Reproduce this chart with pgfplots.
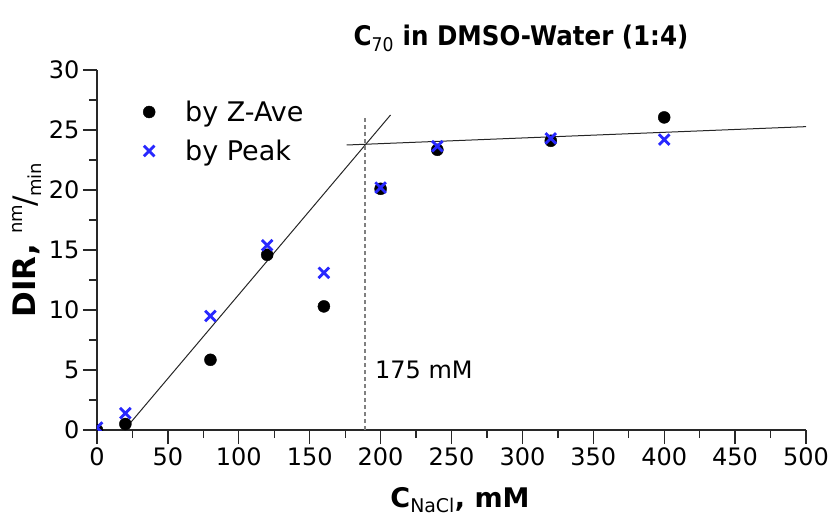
\documentclass[border=0pt]{standalone}
\usepackage{fontspec}
\setmainfont{DejaVu Sans}
\newfontfamily\titlefont{DejaVu Sans}[FakeStretch=0.91]
\usepackage{pgfplots}
\pgfplotsset{compat=1.18}
\definecolor{peakblue}{RGB}{40,40,255}
\definecolor{dashgray}{RGB}{128,128,128}
\definecolor{axisgray}{RGB}{40,40,40}

\begin{document}
\begin{tikzpicture}[x=1pt,y=1pt]
\begin{axis}[
  at={(0,0)}, anchor=south west,
  scale only axis,
  width=709pt, height=360pt,
  xmin=0, xmax=500, ymin=0, ymax=30,
  axis x line*=bottom, axis y line*=left,
  axis line style={axisgray, line width=1.3pt},
  xtick={0,50,...,500}, ytick={0,5,...,30},
  minor x tick num=1, minor y tick num=1,
  tick align=outside,
  major tick length=14pt, minor tick length=8pt,
  every tick/.style={axisgray, line width=1.3pt},
  tick label style={font=\fontsize{24}{28}\selectfont},
  /pgf/number format/assume math mode=true,
  clip marker paths=true,
  legend cell align=left,
  legend style={draw=none, fill=none, at={(axis cs:28.2,27.6)}, anchor=north west,
    font=\fontsize{27}{30}\selectfont, row sep=13pt, inner sep=0pt},
  legend image code/.code={\draw[mark repeat=2,mark phase=2,#1] plot coordinates {(0pt,0pt) (12pt,0pt) (24pt,0pt)}; \path[draw=none] (0pt,0pt) -- (46pt,0pt);},
]
% fitted lines
\addplot[black!85, line width=1pt, forget plot] coordinates {(20,0.1) (207,26.25)};
\addplot[black!85, line width=1pt, forget plot] coordinates {(176,23.75) (500,25.28)};
\addplot[dashgray, line width=1.5pt, dash pattern=on 4pt off 3pt, forget plot] coordinates {(189,0) (189,26)};
% data
\addplot[only marks, mark=*, mark size=6pt, black] coordinates {
(0,0) (20,0.5) (80,5.85) (120,14.6) (160,10.3) (200,20.1) (240,23.35) (320,24.1) (400,26.05)
};
\addlegendentry{by Z-Ave}
\addplot[only marks, mark=x, mark size=7.5pt, peakblue, line width=2.8pt] coordinates {
(0,0.2) (20,1.4) (80,9.5) (120,15.4) (160,13.1) (200,20.2) (240,23.65) (320,24.3) (400,24.2)
};
\addlegendentry{by Peak}
\end{axis}
\node[anchor=base, font=\fontsize{27}{30}\selectfont\titlefont\bfseries] at (424,384) {C\textsubscript{\mdseries 70} in DMSO-Water (1:4)};
\node[anchor=base, font=\fontsize{27}{30}\selectfont\bfseries] at (363,-77) {C\textsubscript{\mdseries NaCl}, mM};
\node[anchor=base, rotate=90, font=\fontsize{31}{34}\selectfont] at (-61,190) {\textbf{DIR,} \raisebox{13pt}{\fontsize{18}{20}\selectfont nm}\kern-1pt/\kern-1pt\raisebox{-6pt}{\fontsize{18}{20}\selectfont min}};
\node[anchor=base west, font=\fontsize{24}{28}\selectfont, inner sep=0pt] at (278,52) {175 mM};
\pgfresetboundingbox
\path[use as bounding box] (-97,-87) rectangle (737,430);
\end{tikzpicture}
\end{document}
